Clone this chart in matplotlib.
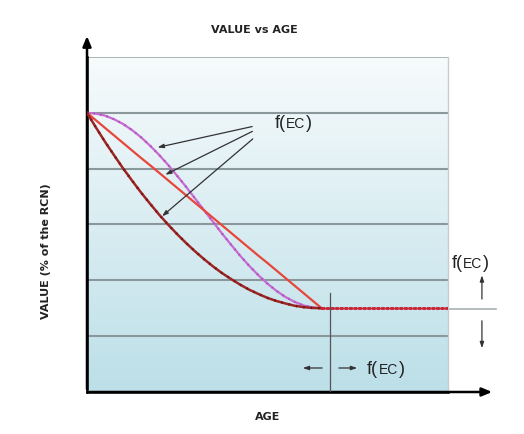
import numpy as np
import matplotlib
matplotlib.use("Agg")
import matplotlib.pyplot as plt
from matplotlib.colors import LinearSegmentedColormap

# ---- data (value in % of RCN, age in arbitrary units) ----
age = [0, 2.5, 5, 7.5, 10, 12.5, 15, 17.5, 20, 22.5, 25, 27.5, 30, 32.5,
       35, 37.5, 40, 42.5, 45, 47.5, 50, 52.5, 55, 57.5, 60, 62.5, 65]
value_linear = [100, 97.3, 94.6, 91.9, 89.2, 86.5, 83.8, 81.2, 78.5, 75.8, 73.1, 70.4, 67.7, 65.0,
                62.3, 59.6, 56.9, 54.2, 51.5, 48.8, 46.2, 43.5, 40.8, 38.1, 35.4, 32.7, 30]
value_convex = [100, 94.7, 89.6, 84.8, 80.1, 75.7, 71.4, 67.4, 63.5, 59.9, 56.5, 53.3, 50.3, 47.5,
                44.9, 42.5, 40.4, 38.4, 36.6, 35.1, 33.7, 32.6, 31.7, 30.9, 30.4, 30.1, 30]
value_scurve = [100, 99.7, 99.0, 97.7, 96.0, 93.8, 91.2, 88.2, 84.9, 81.3, 77.4, 73.4, 69.2, 65.0,
                60.8, 56.6, 52.6, 48.7, 45.1, 41.8, 38.8, 36.2, 34.0, 32.3, 31.0, 30.3, 30]
residual_age = [65, 100]
residual_value = [30, 30]
grid_values = [20, 40, 60, 80, 100]

plt.rcParams['font.family'] = ['Liberation Sans', 'DejaVu Sans']

fig = plt.figure(figsize=(5.24, 4.34), dpi=100)
ax = fig.add_axes([87/524, 1-392/434, 361/524, 335/434])
ax.set_xlim(0, 100)
ax.set_ylim(0, 120)

# background gradient
cmap = LinearSegmentedColormap.from_list("bg", ["#bcdfe8", "#f7fbfc"])
grad = np.linspace(0, 1, 256).reshape(-1, 1)
ax.imshow(grad, extent=[0, 100, 0, 120], origin="lower", aspect="auto", cmap=cmap, zorder=0)

for g in grid_values:
    ax.axhline(g, color="#8a989c", lw=1.5, zorder=1)
ax.axhline(120, color="#a0a8aa", lw=1.2, zorder=1)

ax.spines["top"].set_visible(False)
ax.spines["right"].set_color("#c8cccd")
ax.spines["right"].set_linewidth(1.0)
ax.spines["left"].set_linewidth(1.8)
ax.spines["bottom"].set_linewidth(1.8)
ax.set_xticks([])
ax.set_yticks([])

# curves
ax.plot(age, value_scurve, color="#c86ad2", lw=1.6, zorder=3)
ax.plot(age, value_scurve, color="#a84cb4", lw=1.6, linestyle=(0, (0.5, 2.5)), zorder=3)
ax.plot(age, value_linear, color="#e8463a", lw=1.6, zorder=4)
ax.plot(age, value_convex, color="#9e2424", lw=1.8, zorder=4)
ax.plot(age, value_convex, color="#6e1414", lw=1.8, linestyle=(0, (0.5, 2.5)), zorder=4)
ax.plot(residual_age, residual_value, color="#c8283a", lw=2.2,
        linestyle=(0, (0.6, 0.9)), dash_capstyle="round", zorder=4)

# axis arrows
ax.annotate("", xy=(0, 128.5), xytext=(0, 0), annotation_clip=False,
            arrowprops=dict(arrowstyle="-|>,head_width=0.25,head_length=0.6", color="black", lw=1.8))
ax.annotate("", xy=(113, 0), xytext=(0, 0), annotation_clip=False,
            arrowprops=dict(arrowstyle="-|>,head_width=0.25,head_length=0.6", color="black", lw=1.8))

arrow_kw = dict(arrowstyle="-|>,head_width=0.12,head_length=0.35", color="#333333", lw=0.9)


def fec(x, y):
    """Draw f(EC) with small-cap EC, left edge at data x, baseline at data y."""
    kw = dict(va="baseline", ha="left", color="#222222", zorder=6, clip_on=False)
    t1 = ax.text(x, y, "f(", fontsize=13, **kw)
    fig.canvas.draw()
    e1 = t1.get_window_extent()
    x2 = ax.transData.inverted().transform((e1.x1 + 0.5, 0))[0]
    t2 = ax.text(x2, y, "EC", fontsize=10, **kw)
    fig.canvas.draw()
    e2 = t2.get_window_extent()
    x3 = ax.transData.inverted().transform((e2.x1 + 0.5, 0))[0]
    ax.text(x3, y, ")", fontsize=13, **kw)


# pointer arrows to curves
ax.annotate("", xy=(18.8, 87.4), xytext=(46.5, 95.3), arrowprops=arrow_kw, zorder=5)
ax.annotate("", xy=(21, 77.4), xytext=(46.5, 93.8), arrowprops=arrow_kw, zorder=5)
ax.annotate("", xy=(20.2, 62.3), xytext=(46.5, 91.3), arrowprops=arrow_kw, zorder=5)
fec(52.0, (392 - 128) / 2.7917)

# right side residual annotation
ax.plot([100, 113.3], [29.7, 29.7], color="#a8b0b2", lw=1.2, clip_on=False)
ax.annotate("", xy=(109.4, 42.8), xytext=(109.4, 32.3), annotation_clip=False, arrowprops=arrow_kw)
ax.annotate("", xy=(109.4, 14.7), xytext=(109.4, 26.5), annotation_clip=False, arrowprops=arrow_kw)
fec(101.0, (392 - 268) / 2.7917)

# bottom useful-life annotation
ax.plot([67.3, 67.3], [0, 35.5], color="#555555", lw=0.9, zorder=5)
ax.annotate("", xy=(59, 8.6), xytext=(65.9, 8.6), arrowprops=arrow_kw, zorder=5)
ax.annotate("", xy=(75.6, 8.6), xytext=(69, 8.6), arrowprops=arrow_kw, zorder=5)
fec(77.6, (392 - 374) / 2.7917)

# titles
tkw = dict(fontsize=8, fontweight="bold", family="DejaVu Sans", color="#222222")
fig.text(254/524, 1-30/434, "VALUE vs AGE", ha="center", va="center", **tkw)
fig.text(268/524, 1-417/434, "AGE", ha="center", va="center", **tkw)
fig.text(46/524, 1-251/434, "VALUE (% of the RCN)", ha="center", va="center", rotation=90, **tkw)

fig.savefig("out.png", dpi=100)
